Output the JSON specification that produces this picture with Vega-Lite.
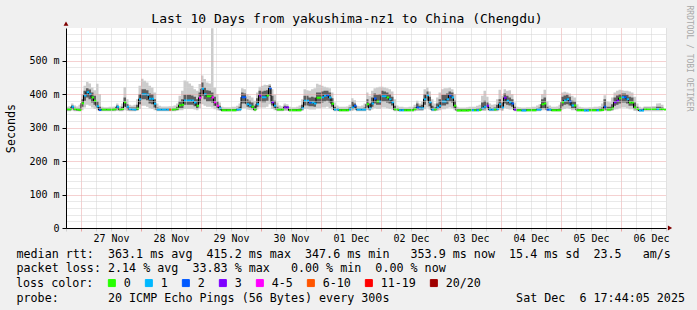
{
"$schema":"https://vega.github.io/schema/vega-lite/v6.json",
"width":600,"height":200,
"autosize":{"type":"none"},
"padding":{"left":66,"top":28,"right":31,"bottom":82},
"background":"#f0f0f0",
"config":{"view":{"fill":"#ffffff","stroke":null},"font":"DejaVu Sans Mono"},
"title":{"text":"Last 10 Days from yakushima-nz1 to China (Chengdu)","font":"DejaVu Sans Mono","fontSize":13,"fontWeight":"normal","color":"#000000","anchor":"middle","frame":"group","dx":-19,"dy":35,"offset":4,"baseline":"alphabetic"},
"datasets":{"ping":[
{"t":"2025-11-26T18:00","med":355,"loss":"0","lo":349,"q1":352,"q3":357,"hi":362},
{"t":"2025-11-26T19:00","med":355,"loss":"0","lo":349,"q1":352,"q3":357,"hi":364},
{"t":"2025-11-26T20:00","med":362,"loss":"1","lo":351,"q1":356,"q3":366,"hi":372},
{"t":"2025-11-26T21:00","med":356,"loss":"0","lo":349,"q1":352,"q3":359,"hi":366},
{"t":"2025-11-26T22:00","med":354,"loss":"0","lo":349,"q1":351,"q3":357,"hi":363},
{"t":"2025-11-26T23:00","med":353,"loss":"0","lo":348,"q1":351,"q3":358,"hi":368},
{"t":"2025-11-27T00:00","med":373,"loss":"0","lo":352,"q1":362,"q3":385,"hi":400},
{"t":"2025-11-27T01:00","med":396,"loss":"1","lo":360,"q1":380,"q3":410,"hi":425},
{"t":"2025-11-27T02:00","med":406,"loss":"1","lo":368,"q1":390,"q3":418,"hi":436},
{"t":"2025-11-27T03:00","med":400,"loss":"1","lo":365,"q1":385,"q3":414,"hi":432},
{"t":"2025-11-27T04:00","med":390,"loss":"0","lo":360,"q1":375,"q3":405,"hi":420},
{"t":"2025-11-27T05:00","med":380,"loss":"0","lo":356,"q1":368,"q3":395,"hi":412},
{"t":"2025-11-27T06:00","med":364,"loss":"1","lo":352,"q1":358,"q3":378,"hi":431},
{"t":"2025-11-27T07:00","med":353,"loss":"2","lo":349,"q1":351,"q3":362,"hi":400},
{"t":"2025-11-27T08:00","med":354,"loss":"0","lo":349,"q1":352,"q3":357,"hi":362},
{"t":"2025-11-27T09:00","med":354,"loss":"0","lo":349,"q1":352,"q3":357,"hi":361},
{"t":"2025-11-27T10:00","med":354,"loss":"0","lo":349,"q1":352,"q3":357,"hi":361},
{"t":"2025-11-27T11:00","med":354,"loss":"0","lo":349,"q1":352,"q3":357,"hi":362},
{"t":"2025-11-27T12:00","med":354,"loss":"0","lo":349,"q1":352,"q3":357,"hi":362},
{"t":"2025-11-27T13:00","med":355,"loss":"0","lo":349,"q1":352,"q3":358,"hi":363},
{"t":"2025-11-27T14:00","med":362,"loss":"1","lo":350,"q1":355,"q3":366,"hi":372},
{"t":"2025-11-27T15:00","med":355,"loss":"0","lo":349,"q1":352,"q3":358,"hi":364},
{"t":"2025-11-27T16:00","med":356,"loss":"0","lo":349,"q1":352,"q3":362,"hi":372},
{"t":"2025-11-27T17:00","med":376,"loss":"0","lo":352,"q1":362,"q3":390,"hi":421},
{"t":"2025-11-27T18:00","med":362,"loss":"1","lo":350,"q1":355,"q3":370,"hi":385},
{"t":"2025-11-27T19:00","med":356,"loss":"1","lo":349,"q1":352,"q3":360,"hi":368},
{"t":"2025-11-27T20:00","med":355,"loss":"1","lo":349,"q1":352,"q3":360,"hi":366},
{"t":"2025-11-27T21:00","med":354,"loss":"1","lo":349,"q1":352,"q3":360,"hi":368},
{"t":"2025-11-27T22:00","med":357,"loss":"0","lo":350,"q1":353,"q3":368,"hi":385},
{"t":"2025-11-27T23:00","med":385,"loss":"1","lo":356,"q1":370,"q3":400,"hi":425},
{"t":"2025-11-28T00:00","med":400,"loss":"1","lo":365,"q1":385,"q3":415,"hi":446},
{"t":"2025-11-28T01:00","med":400,"loss":"1","lo":365,"q1":385,"q3":415,"hi":440},
{"t":"2025-11-28T02:00","med":398,"loss":"1","lo":362,"q1":382,"q3":412,"hi":435},
{"t":"2025-11-28T03:00","med":386,"loss":"1","lo":358,"q1":372,"q3":402,"hi":425},
{"t":"2025-11-28T04:00","med":386,"loss":"1","lo":356,"q1":370,"q3":400,"hi":420},
{"t":"2025-11-28T05:00","med":371,"loss":"1","lo":352,"q1":360,"q3":385,"hi":405},
{"t":"2025-11-28T06:00","med":354,"loss":"1","lo":349,"q1":352,"q3":360,"hi":372},
{"t":"2025-11-28T07:00","med":354,"loss":"1","lo":349,"q1":352,"q3":358,"hi":365},
{"t":"2025-11-28T08:00","med":354,"loss":"1","lo":349,"q1":352,"q3":358,"hi":363},
{"t":"2025-11-28T09:00","med":354,"loss":"1","lo":349,"q1":352,"q3":358,"hi":363},
{"t":"2025-11-28T10:00","med":354,"loss":"1","lo":349,"q1":352,"q3":358,"hi":363},
{"t":"2025-11-28T11:00","med":354,"loss":"6-10","lo":349,"q1":352,"q3":358,"hi":364},
{"t":"2025-11-28T12:00","med":354,"loss":"0","lo":349,"q1":352,"q3":358,"hi":364},
{"t":"2025-11-28T13:00","med":355,"loss":"0","lo":349,"q1":352,"q3":358,"hi":366},
{"t":"2025-11-28T14:00","med":357,"loss":"0","lo":350,"q1":353,"q3":362,"hi":372},
{"t":"2025-11-28T15:00","med":367,"loss":"0","lo":352,"q1":358,"q3":378,"hi":395},
{"t":"2025-11-28T16:00","med":368,"loss":"0","lo":352,"q1":358,"q3":385,"hi":410},
{"t":"2025-11-28T17:00","med":381,"loss":"1","lo":356,"q1":368,"q3":398,"hi":441},
{"t":"2025-11-28T18:00","med":381,"loss":"1","lo":356,"q1":368,"q3":398,"hi":438},
{"t":"2025-11-28T19:00","med":381,"loss":"1","lo":356,"q1":368,"q3":398,"hi":432},
{"t":"2025-11-28T20:00","med":381,"loss":"1","lo":356,"q1":368,"q3":396,"hi":425},
{"t":"2025-11-28T21:00","med":375,"loss":"1","lo":354,"q1":364,"q3":392,"hi":415},
{"t":"2025-11-28T22:00","med":365,"loss":"0","lo":352,"q1":358,"q3":385,"hi":410},
{"t":"2025-11-28T23:00","med":389,"loss":"4-5","lo":358,"q1":372,"q3":405,"hi":430},
{"t":"2025-11-29T00:00","med":416,"loss":"1","lo":370,"q1":395,"q3":435,"hi":456},
{"t":"2025-11-29T01:00","med":400,"loss":"1","lo":365,"q1":385,"q3":420,"hi":445},
{"t":"2025-11-29T02:00","med":394,"loss":"0","lo":362,"q1":378,"q3":412,"hi":435},
{"t":"2025-11-29T03:00","med":394,"loss":"0","lo":362,"q1":378,"q3":410,"hi":432},
{"t":"2025-11-29T04:00","med":390,"loss":"4-5","lo":360,"q1":375,"q3":405,"hi":597},
{"t":"2025-11-29T05:00","med":376,"loss":"4-5","lo":355,"q1":365,"q3":392,"hi":420},
{"t":"2025-11-29T06:00","med":365,"loss":"4-5","lo":352,"q1":358,"q3":378,"hi":400},
{"t":"2025-11-29T07:00","med":358,"loss":"1","lo":350,"q1":354,"q3":365,"hi":375},
{"t":"2025-11-29T08:00","med":352,"loss":"0","lo":348,"q1":350,"q3":356,"hi":362},
{"t":"2025-11-29T09:00","med":352,"loss":"0","lo":348,"q1":350,"q3":356,"hi":361},
{"t":"2025-11-29T10:00","med":352,"loss":"0","lo":348,"q1":350,"q3":356,"hi":361},
{"t":"2025-11-29T11:00","med":352,"loss":"0","lo":348,"q1":350,"q3":356,"hi":361},
{"t":"2025-11-29T12:00","med":352,"loss":"0","lo":348,"q1":350,"q3":356,"hi":362},
{"t":"2025-11-29T13:00","med":352,"loss":"0","lo":348,"q1":350,"q3":356,"hi":362},
{"t":"2025-11-29T14:00","med":354,"loss":"1","lo":349,"q1":351,"q3":358,"hi":365},
{"t":"2025-11-29T15:00","med":355,"loss":"1","lo":349,"q1":352,"q3":362,"hi":372},
{"t":"2025-11-29T16:00","med":391,"loss":"2","lo":358,"q1":372,"q3":405,"hi":418},
{"t":"2025-11-29T17:00","med":391,"loss":"2","lo":358,"q1":372,"q3":402,"hi":415},
{"t":"2025-11-29T18:00","med":370,"loss":"1","lo":354,"q1":362,"q3":385,"hi":400},
{"t":"2025-11-29T19:00","med":366,"loss":"1","lo":353,"q1":360,"q3":380,"hi":395},
{"t":"2025-11-29T20:00","med":362,"loss":"0","lo":352,"q1":357,"q3":375,"hi":390},
{"t":"2025-11-29T21:00","med":354,"loss":"0","lo":349,"q1":352,"q3":365,"hi":380},
{"t":"2025-11-29T22:00","med":370,"loss":"1","lo":354,"q1":362,"q3":388,"hi":405},
{"t":"2025-11-29T23:00","med":396,"loss":"3","lo":360,"q1":378,"q3":410,"hi":422},
{"t":"2025-11-30T00:00","med":391,"loss":"1","lo":360,"q1":376,"q3":408,"hi":425},
{"t":"2025-11-30T01:00","med":391,"loss":"1","lo":360,"q1":376,"q3":410,"hi":428},
{"t":"2025-11-30T02:00","med":396,"loss":"0","lo":362,"q1":380,"q3":412,"hi":427},
{"t":"2025-11-30T03:00","med":418,"loss":"2","lo":370,"q1":395,"q3":425,"hi":430},
{"t":"2025-11-30T04:00","med":376,"loss":"3","lo":356,"q1":366,"q3":395,"hi":415},
{"t":"2025-11-30T05:00","med":365,"loss":"1","lo":352,"q1":358,"q3":380,"hi":398},
{"t":"2025-11-30T06:00","med":354,"loss":"0","lo":349,"q1":352,"q3":362,"hi":375},
{"t":"2025-11-30T07:00","med":354,"loss":"0","lo":349,"q1":352,"q3":358,"hi":366},
{"t":"2025-11-30T08:00","med":354,"loss":"0","lo":349,"q1":352,"q3":358,"hi":364},
{"t":"2025-11-30T09:00","med":360,"loss":"3","lo":350,"q1":355,"q3":365,"hi":372},
{"t":"2025-11-30T10:00","med":360,"loss":"3","lo":350,"q1":355,"q3":364,"hi":370},
{"t":"2025-11-30T11:00","med":352,"loss":"0","lo":348,"q1":350,"q3":356,"hi":362},
{"t":"2025-11-30T12:00","med":352,"loss":"0","lo":348,"q1":350,"q3":356,"hi":361},
{"t":"2025-11-30T13:00","med":352,"loss":"0","lo":348,"q1":350,"q3":356,"hi":361},
{"t":"2025-11-30T14:00","med":352,"loss":"0","lo":348,"q1":350,"q3":356,"hi":362},
{"t":"2025-11-30T15:00","med":352,"loss":"0","lo":348,"q1":350,"q3":357,"hi":366},
{"t":"2025-11-30T16:00","med":358,"loss":"1","lo":350,"q1":354,"q3":368,"hi":385},
{"t":"2025-11-30T17:00","med":380,"loss":"1","lo":356,"q1":366,"q3":395,"hi":415},
{"t":"2025-11-30T18:00","med":380,"loss":"1","lo":356,"q1":366,"q3":395,"hi":412},
{"t":"2025-11-30T19:00","med":375,"loss":"2","lo":354,"q1":364,"q3":390,"hi":410},
{"t":"2025-11-30T20:00","med":375,"loss":"1","lo":354,"q1":364,"q3":392,"hi":415},
{"t":"2025-11-30T21:00","med":372,"loss":"1","lo":354,"q1":362,"q3":390,"hi":418},
{"t":"2025-11-30T22:00","med":389,"loss":"0","lo":358,"q1":372,"q3":405,"hi":431},
{"t":"2025-11-30T23:00","med":389,"loss":"0","lo":358,"q1":372,"q3":405,"hi":428},
{"t":"2025-12-01T00:00","med":391,"loss":"1","lo":360,"q1":375,"q3":408,"hi":425},
{"t":"2025-12-01T01:00","med":395,"loss":"1","lo":360,"q1":378,"q3":410,"hi":422},
{"t":"2025-12-01T02:00","med":397,"loss":"2","lo":362,"q1":380,"q3":410,"hi":420},
{"t":"2025-12-01T03:00","med":390,"loss":"1","lo":358,"q1":375,"q3":405,"hi":418},
{"t":"2025-12-01T04:00","med":371,"loss":"0","lo":354,"q1":362,"q3":388,"hi":405},
{"t":"2025-12-01T05:00","med":354,"loss":"1","lo":349,"q1":352,"q3":362,"hi":375},
{"t":"2025-12-01T06:00","med":354,"loss":"1","lo":349,"q1":352,"q3":358,"hi":366},
{"t":"2025-12-01T07:00","med":352,"loss":"0","lo":348,"q1":350,"q3":356,"hi":362},
{"t":"2025-12-01T08:00","med":352,"loss":"0","lo":348,"q1":350,"q3":356,"hi":362},
{"t":"2025-12-01T09:00","med":352,"loss":"0","lo":348,"q1":350,"q3":356,"hi":362},
{"t":"2025-12-01T10:00","med":352,"loss":"0","lo":348,"q1":350,"q3":356,"hi":363},
{"t":"2025-12-01T11:00","med":355,"loss":"1","lo":349,"q1":352,"q3":360,"hi":368},
{"t":"2025-12-01T12:00","med":360,"loss":"1","lo":350,"q1":355,"q3":378,"hi":388},
{"t":"2025-12-01T13:00","med":365,"loss":"2","lo":352,"q1":358,"q3":372,"hi":382},
{"t":"2025-12-01T14:00","med":354,"loss":"1","lo":349,"q1":352,"q3":358,"hi":365},
{"t":"2025-12-01T15:00","med":354,"loss":"1","lo":349,"q1":352,"q3":358,"hi":364},
{"t":"2025-12-01T16:00","med":354,"loss":"1","lo":349,"q1":352,"q3":358,"hi":366},
{"t":"2025-12-01T17:00","med":354,"loss":"1","lo":349,"q1":352,"q3":360,"hi":372},
{"t":"2025-12-01T18:00","med":370,"loss":"0","lo":353,"q1":360,"q3":385,"hi":405},
{"t":"2025-12-01T19:00","med":358,"loss":"1","lo":350,"q1":354,"q3":372,"hi":395},
{"t":"2025-12-01T20:00","med":372,"loss":"1","lo":354,"q1":362,"q3":390,"hi":410},
{"t":"2025-12-01T21:00","med":387,"loss":"2","lo":358,"q1":372,"q3":402,"hi":418},
{"t":"2025-12-01T22:00","med":378,"loss":"0","lo":356,"q1":368,"q3":398,"hi":420},
{"t":"2025-12-01T23:00","med":378,"loss":"1","lo":356,"q1":368,"q3":400,"hi":422},
{"t":"2025-12-02T00:00","med":394,"loss":"1","lo":360,"q1":378,"q3":410,"hi":422},
{"t":"2025-12-02T01:00","med":394,"loss":"1","lo":360,"q1":378,"q3":408,"hi":420},
{"t":"2025-12-02T02:00","med":390,"loss":"0","lo":358,"q1":375,"q3":405,"hi":418},
{"t":"2025-12-02T03:00","med":385,"loss":"1","lo":356,"q1":372,"q3":400,"hi":415},
{"t":"2025-12-02T04:00","med":376,"loss":"1","lo":354,"q1":366,"q3":392,"hi":408},
{"t":"2025-12-02T05:00","med":355,"loss":"0","lo":349,"q1":352,"q3":365,"hi":385},
{"t":"2025-12-02T06:00","med":354,"loss":"0","lo":349,"q1":352,"q3":358,"hi":366},
{"t":"2025-12-02T07:00","med":352,"loss":"1","lo":348,"q1":350,"q3":356,"hi":362},
{"t":"2025-12-02T08:00","med":352,"loss":"1","lo":348,"q1":350,"q3":356,"hi":362},
{"t":"2025-12-02T09:00","med":352,"loss":"0","lo":348,"q1":350,"q3":356,"hi":361},
{"t":"2025-12-02T10:00","med":352,"loss":"0","lo":348,"q1":350,"q3":356,"hi":361},
{"t":"2025-12-02T11:00","med":352,"loss":"0","lo":348,"q1":350,"q3":356,"hi":362},
{"t":"2025-12-02T12:00","med":352,"loss":"0","lo":348,"q1":350,"q3":356,"hi":362},
{"t":"2025-12-02T13:00","med":356,"loss":"0","lo":349,"q1":352,"q3":360,"hi":368},
{"t":"2025-12-02T14:00","med":360,"loss":"2","lo":350,"q1":355,"q3":372,"hi":380},
{"t":"2025-12-02T15:00","med":358,"loss":"1","lo":350,"q1":354,"q3":365,"hi":372},
{"t":"2025-12-02T16:00","med":358,"loss":"1","lo":350,"q1":354,"q3":368,"hi":378},
{"t":"2025-12-02T17:00","med":385,"loss":"1","lo":355,"q1":368,"q3":400,"hi":415},
{"t":"2025-12-02T18:00","med":397,"loss":"1","lo":360,"q1":380,"q3":408,"hi":420},
{"t":"2025-12-02T19:00","med":376,"loss":"1","lo":354,"q1":364,"q3":392,"hi":408},
{"t":"2025-12-02T20:00","med":354,"loss":"1","lo":349,"q1":352,"q3":365,"hi":385},
{"t":"2025-12-02T21:00","med":354,"loss":"0","lo":349,"q1":352,"q3":360,"hi":372},
{"t":"2025-12-02T22:00","med":360,"loss":"1","lo":350,"q1":355,"q3":372,"hi":390},
{"t":"2025-12-02T23:00","med":365,"loss":"1","lo":352,"q1":358,"q3":385,"hi":405},
{"t":"2025-12-03T00:00","med":378,"loss":"1","lo":355,"q1":366,"q3":398,"hi":415},
{"t":"2025-12-03T01:00","med":378,"loss":"1","lo":355,"q1":366,"q3":398,"hi":418},
{"t":"2025-12-03T02:00","med":385,"loss":"1","lo":358,"q1":370,"q3":402,"hi":418},
{"t":"2025-12-03T03:00","med":396,"loss":"2","lo":360,"q1":378,"q3":408,"hi":420},
{"t":"2025-12-03T04:00","med":390,"loss":"1","lo":358,"q1":375,"q3":405,"hi":415},
{"t":"2025-12-03T05:00","med":365,"loss":"0","lo":352,"q1":358,"q3":380,"hi":400},
{"t":"2025-12-03T06:00","med":351,"loss":"0","lo":348,"q1":350,"q3":355,"hi":362},
{"t":"2025-12-03T07:00","med":351,"loss":"0","lo":348,"q1":350,"q3":355,"hi":360},
{"t":"2025-12-03T08:00","med":351,"loss":"0","lo":348,"q1":350,"q3":355,"hi":360},
{"t":"2025-12-03T09:00","med":351,"loss":"0","lo":348,"q1":350,"q3":355,"hi":360},
{"t":"2025-12-03T10:00","med":351,"loss":"0","lo":348,"q1":350,"q3":355,"hi":361},
{"t":"2025-12-03T11:00","med":352,"loss":"0","lo":348,"q1":350,"q3":356,"hi":362},
{"t":"2025-12-03T12:00","med":352,"loss":"1","lo":348,"q1":350,"q3":356,"hi":362},
{"t":"2025-12-03T13:00","med":352,"loss":"0","lo":348,"q1":350,"q3":356,"hi":362},
{"t":"2025-12-03T14:00","med":352,"loss":"1","lo":348,"q1":350,"q3":357,"hi":365},
{"t":"2025-12-03T15:00","med":353,"loss":"0","lo":348,"q1":351,"q3":358,"hi":368},
{"t":"2025-12-03T16:00","med":358,"loss":"1","lo":350,"q1":354,"q3":375,"hi":395},
{"t":"2025-12-03T17:00","med":362,"loss":"1","lo":350,"q1":355,"q3":380,"hi":410},
{"t":"2025-12-03T18:00","med":365,"loss":"3","lo":352,"q1":358,"q3":375,"hi":392},
{"t":"2025-12-03T19:00","med":354,"loss":"1","lo":349,"q1":352,"q3":360,"hi":372},
{"t":"2025-12-03T20:00","med":354,"loss":"1","lo":349,"q1":352,"q3":358,"hi":368},
{"t":"2025-12-03T21:00","med":354,"loss":"0","lo":349,"q1":352,"q3":360,"hi":370},
{"t":"2025-12-03T22:00","med":356,"loss":"1","lo":349,"q1":352,"q3":368,"hi":385},
{"t":"2025-12-03T23:00","med":370,"loss":"1","lo":352,"q1":358,"q3":385,"hi":413},
{"t":"2025-12-04T00:00","med":360,"loss":"1","lo":350,"q1":355,"q3":375,"hi":395},
{"t":"2025-12-04T01:00","med":389,"loss":"3","lo":358,"q1":372,"q3":402,"hi":415},
{"t":"2025-12-04T02:00","med":380,"loss":"1","lo":356,"q1":368,"q3":395,"hi":410},
{"t":"2025-12-04T03:00","med":376,"loss":"1","lo":354,"q1":366,"q3":390,"hi":412},
{"t":"2025-12-04T04:00","med":372,"loss":"2","lo":354,"q1":362,"q3":385,"hi":400},
{"t":"2025-12-04T05:00","med":354,"loss":"3","lo":349,"q1":352,"q3":362,"hi":375},
{"t":"2025-12-04T06:00","med":352,"loss":"0","lo":348,"q1":350,"q3":356,"hi":362},
{"t":"2025-12-04T07:00","med":352,"loss":"0","lo":348,"q1":350,"q3":356,"hi":361},
{"t":"2025-12-04T08:00","med":351,"loss":"1","lo":348,"q1":350,"q3":355,"hi":360},
{"t":"2025-12-04T09:00","med":351,"loss":"1","lo":348,"q1":350,"q3":355,"hi":360},
{"t":"2025-12-04T10:00","med":352,"loss":"0","lo":348,"q1":350,"q3":356,"hi":361},
{"t":"2025-12-04T11:00","med":352,"loss":"0","lo":348,"q1":350,"q3":356,"hi":361},
{"t":"2025-12-04T12:00","med":352,"loss":"0","lo":348,"q1":350,"q3":356,"hi":362},
{"t":"2025-12-04T13:00","med":352,"loss":"0","lo":348,"q1":350,"q3":356,"hi":362},
{"t":"2025-12-04T14:00","med":354,"loss":"1","lo":349,"q1":352,"q3":358,"hi":366},
{"t":"2025-12-04T15:00","med":354,"loss":"1","lo":349,"q1":352,"q3":360,"hi":370},
{"t":"2025-12-04T16:00","med":370,"loss":"0","lo":352,"q1":358,"q3":385,"hi":400},
{"t":"2025-12-04T17:00","med":372,"loss":"0","lo":352,"q1":358,"q3":390,"hi":413},
{"t":"2025-12-04T18:00","med":354,"loss":"2","lo":349,"q1":352,"q3":362,"hi":378},
{"t":"2025-12-04T19:00","med":354,"loss":"1","lo":349,"q1":352,"q3":358,"hi":366},
{"t":"2025-12-04T20:00","med":352,"loss":"0","lo":348,"q1":350,"q3":356,"hi":362},
{"t":"2025-12-04T21:00","med":352,"loss":"0","lo":348,"q1":350,"q3":356,"hi":362},
{"t":"2025-12-04T22:00","med":352,"loss":"0","lo":348,"q1":350,"q3":356,"hi":363},
{"t":"2025-12-04T23:00","med":352,"loss":"0","lo":348,"q1":350,"q3":358,"hi":368},
{"t":"2025-12-05T00:00","med":376,"loss":"0","lo":354,"q1":364,"q3":392,"hi":405},
{"t":"2025-12-05T01:00","med":381,"loss":"1","lo":356,"q1":368,"q3":396,"hi":407},
{"t":"2025-12-05T02:00","med":385,"loss":"1","lo":358,"q1":370,"q3":398,"hi":405},
{"t":"2025-12-05T03:00","med":378,"loss":"2","lo":356,"q1":366,"q3":392,"hi":402},
{"t":"2025-12-05T04:00","med":366,"loss":"1","lo":352,"q1":358,"q3":380,"hi":395},
{"t":"2025-12-05T05:00","med":366,"loss":"0","lo":352,"q1":358,"q3":378,"hi":390},
{"t":"2025-12-05T06:00","med":352,"loss":"0","lo":348,"q1":350,"q3":358,"hi":370},
{"t":"2025-12-05T07:00","med":352,"loss":"0","lo":348,"q1":350,"q3":356,"hi":362},
{"t":"2025-12-05T08:00","med":352,"loss":"0","lo":348,"q1":350,"q3":356,"hi":361},
{"t":"2025-12-05T09:00","med":351,"loss":"1","lo":348,"q1":350,"q3":355,"hi":360},
{"t":"2025-12-05T10:00","med":351,"loss":"1","lo":348,"q1":350,"q3":355,"hi":360},
{"t":"2025-12-05T11:00","med":352,"loss":"0","lo":348,"q1":350,"q3":356,"hi":361},
{"t":"2025-12-05T12:00","med":352,"loss":"0","lo":348,"q1":350,"q3":356,"hi":361},
{"t":"2025-12-05T13:00","med":352,"loss":"0","lo":348,"q1":350,"q3":356,"hi":362},
{"t":"2025-12-05T14:00","med":352,"loss":"1","lo":348,"q1":350,"q3":356,"hi":362},
{"t":"2025-12-05T15:00","med":352,"loss":"0","lo":348,"q1":350,"q3":357,"hi":364},
{"t":"2025-12-05T16:00","med":353,"loss":"0","lo":348,"q1":351,"q3":360,"hi":372},
{"t":"2025-12-05T17:00","med":362,"loss":"2","lo":350,"q1":355,"q3":385,"hi":397},
{"t":"2025-12-05T18:00","med":354,"loss":"0","lo":349,"q1":352,"q3":362,"hi":378},
{"t":"2025-12-05T19:00","med":354,"loss":"0","lo":349,"q1":352,"q3":362,"hi":376},
{"t":"2025-12-05T20:00","med":358,"loss":"0","lo":350,"q1":354,"q3":370,"hi":390},
{"t":"2025-12-05T21:00","med":376,"loss":"3","lo":354,"q1":365,"q3":390,"hi":405},
{"t":"2025-12-05T22:00","med":380,"loss":"3","lo":355,"q1":368,"q3":396,"hi":410},
{"t":"2025-12-05T23:00","med":388,"loss":"0","lo":358,"q1":372,"q3":400,"hi":413},
{"t":"2025-12-06T00:00","med":391,"loss":"1","lo":360,"q1":375,"q3":402,"hi":412},
{"t":"2025-12-06T01:00","med":391,"loss":"2","lo":360,"q1":375,"q3":402,"hi":410},
{"t":"2025-12-06T02:00","med":385,"loss":"1","lo":358,"q1":372,"q3":398,"hi":410},
{"t":"2025-12-06T03:00","med":375,"loss":"0","lo":355,"q1":365,"q3":392,"hi":408},
{"t":"2025-12-06T04:00","med":375,"loss":"0","lo":355,"q1":365,"q3":390,"hi":405},
{"t":"2025-12-06T05:00","med":360,"loss":"0","lo":350,"q1":355,"q3":375,"hi":392},
{"t":"2025-12-06T06:00","med":356,"loss":"0","lo":349,"q1":352,"q3":362,"hi":372},
{"t":"2025-12-06T07:00","med":351,"loss":"1","lo":348,"q1":350,"q3":355,"hi":362},
{"t":"2025-12-06T08:00","med":351,"loss":"1","lo":348,"q1":350,"q3":355,"hi":360},
{"t":"2025-12-06T09:00","med":356,"loss":"0","lo":349,"q1":353,"q3":359,"hi":363},
{"t":"2025-12-06T10:00","med":356,"loss":"0","lo":349,"q1":353,"q3":359,"hi":363},
{"t":"2025-12-06T11:00","med":356,"loss":"0","lo":349,"q1":353,"q3":359,"hi":363},
{"t":"2025-12-06T12:00","med":356,"loss":"0","lo":349,"q1":353,"q3":359,"hi":364},
{"t":"2025-12-06T13:00","med":356,"loss":"0","lo":349,"q1":353,"q3":359,"hi":364},
{"t":"2025-12-06T14:00","med":356,"loss":"1","lo":349,"q1":353,"q3":362,"hi":372},
{"t":"2025-12-06T15:00","med":356,"loss":"0","lo":349,"q1":353,"q3":362,"hi":373},
{"t":"2025-12-06T16:00","med":356,"loss":"0","lo":349,"q1":353,"q3":360,"hi":368},
{"t":"2025-12-06T17:00","med":354,"loss":"0","lo":349,"q1":352,"q3":359,"hi":366}
]},
"data":{"name":"ping"},
"resolve":{"axis":{"x":"independent","y":"independent"}},
"layer":[
{"mark":{"type":"area","interpolate":"step-after","color":"#cccccc"},
 "encoding":{
  "x":{"field":"t","type":"temporal",
   "scale":{"domain":[{"year":2025,"month":11,"date":26,"hours":18},{"year":2025,"month":12,"date":6,"hours":18}],"nice":false},
   "axis":{"orient":"bottom","tickCount":40,
    "labelExpr":"hours(datum.value) == 12 ? timeFormat(datum.value, '%d %b') : ''",
    "labelFont":"DejaVu Sans Mono","labelFontSize":10,"labelColor":"#000000","labelPadding":2,"labelOverlap":false,"labelFlush":false,
    "grid":true,"gridColor":{"condition":{"test":"hours(datum.value) == 0","value":"#eba3a3"},"value":"#d2d2d2"},"gridDash":[1,1],"gridWidth":1,
    "tickSize":3,"tickColor":{"condition":{"test":"hours(datum.value) == 0","value":"#eba3a3"},"value":"#d2d2d2"},
    "domainColor":"#000000","domainWidth":1,"zindex":1,
    "title":["median rtt: \u00a0363.1 ms avg \u00a0415.2 ms max \u00a0347.6 ms min \u00a0\u00a0353.9 ms now \u00a015.4 ms sd \u00a023.5 \u00a0\u00a0am/s","packet loss: 2.14 % avg \u00a033.83 % max \u00a0\u00a00.00 % min \u00a00.00 % now"],
    "titleFont":"DejaVu Sans Mono","titleFontSize":11.7,"titleFontWeight":"normal","titleColor":"#000000","titleAlign":"left","titleAnchor":"start","titleBaseline":"top","titleX":-50,"titleY":20,"titleLineHeight":14}},
  "y":{"field":"lo","type":"quantitative","scale":{"domain":[0,597.7],"nice":false,"zero":true},
   "axis":{"values":[0,20,40,60,80,100,120,140,160,180,200,220,240,260,280,300,320,340,360,380,400,420,440,460,480,500,520,540,560,580],
    "labelExpr":"datum.value % 100 == 0 ? (datum.value == 0 ? '0' : datum.value + ' m') : ''",
    "labelFont":"DejaVu Sans Mono","labelFontSize":10,"labelColor":"#000000","labelPadding":3,"labelOverlap":false,"labelFlush":false,
    "grid":true,"gridColor":{"condition":{"test":"datum.value % 100 == 0","value":"#eba3a3"},"value":"#d2d2d2"},"gridDash":[1,1],"gridWidth":1,
    "tickSize":4,"tickColor":{"condition":{"test":"datum.value % 100 == 0","value":"#000000"},"value":"rgba(0,0,0,0)"},
    "domainColor":"#000000","domainWidth":1,"zindex":1,
    "title":"Seconds","titleFont":"DejaVu Sans Mono","titleFontSize":11.7,"titleFontWeight":"normal","titleColor":"#000000","titleAngle":270,"titleAlign":"center","titleBaseline":"middle","titleX":-56,"titleY":100}},
  "y2":{"field":"hi"}}},
{"mark":{"type":"area","interpolate":"step-after","color":"#5e5e5e"},
 "encoding":{"x":{"field":"t","type":"temporal",
   "axis":{"orient":"top","labels":false,"ticks":false,"domain":false,"grid":false,
    "title":"probe: \u00a0\u00a0\u00a0\u00a0\u00a0\u00a020 ICMP Echo Pings (56 Bytes) every 300s \u00a0\u00a0\u00a0\u00a0\u00a0\u00a0\u00a0\u00a0\u00a0\u00a0\u00a0\u00a0\u00a0\u00a0\u00a0\u00a0\u00a0Sat Dec \u00a06 17:44:05 2025",
    "titleFont":"DejaVu Sans Mono","titleFontSize":11.7,"titleFontWeight":"normal","titleColor":"#000000","titleAlign":"left","titleAnchor":"start","titleBaseline":"top","titleX":-50,"titleY":264}},
  "y":{"field":"q1","type":"quantitative","axis":null},"y2":{"field":"q3"}}},
{"mark":{"type":"line","interpolate":"step-after","color":"#000000","strokeWidth":1},
 "encoding":{"x":{"field":"t","type":"temporal","axis":null},"y":{"field":"med","type":"quantitative","axis":null}}},
{"mark":{"type":"rect","strokeWidth":2,"clip":true},
 "encoding":{"x":{"field":"t","type":"temporal","timeUnit":"yearmonthdatehours","axis":null},
  "y":{"field":"med","type":"quantitative",
   "axis":{"orient":"right","title":"RRDTOOL / TOBI OETIKER","labels":false,"ticks":false,"domain":false,"grid":false,
    "titleAngle":90,"titleAlign":"left","titleBaseline":"middle","titleX":22.5,"titleY":-23,"titleFont":"DejaVu Sans Mono","titleFontSize":8,"titleFontWeight":"normal","titleColor":"#a8a8a8"}},
  "y2":{"field":"med"},
  "stroke":{"field":"loss","type":"nominal","legend":null,
   "scale":{"domain":["0","1","2","3","4-5","6-10","11-19","20/20"],"range":["#26ff00","#00b8ff","#0059ff","#7e00ff","#ff00ff","#ff5500","#ff0000","#a00000"]}},
  "fill":{"field":"loss","type":"nominal",
   "scale":{"domain":["0","1","2","3","4-5","6-10","11-19","20/20"],"range":["#26ff00","#00b8ff","#0059ff","#7e00ff","#ff00ff","#ff5500","#ff0000","#a00000"]},
   "legend":{"orient":"none","legendX":-50,"legendY":249,"direction":"horizontal","title":"loss color:","titleOrient":"left","titlePadding":12,
    "titleFont":"DejaVu Sans Mono","titleFontSize":11.7,"titleFontWeight":"normal","titleColor":"#000000",
    "labelFont":"DejaVu Sans Mono","labelFontSize":11.7,"labelColor":"#000000","labelOffset":6,"columnPadding":12,"symbolType":"square","symbolSize":49,"symbolStrokeWidth":1,"symbolStrokeColor":"#000000","padding":0}}}},
{"data":{"values":[{"t":"2025-12-06T19:36","v":0}]},
 "mark":{"type":"point","shape":"triangle-right","filled":true,"size":24,"color":"#7f0000","opacity":1},
 "encoding":{"x":{"field":"t","type":"temporal","axis":null},"y":{"field":"v","type":"quantitative","axis":null}}},
{"data":{"values":[{"t":"2025-11-26T18:00","v":611}]},
 "mark":{"type":"point","shape":"triangle-up","filled":true,"size":24,"color":"#7f0000","opacity":1},
 "encoding":{"x":{"field":"t","type":"temporal","axis":null},"y":{"field":"v","type":"quantitative","axis":null}}}
]
}
